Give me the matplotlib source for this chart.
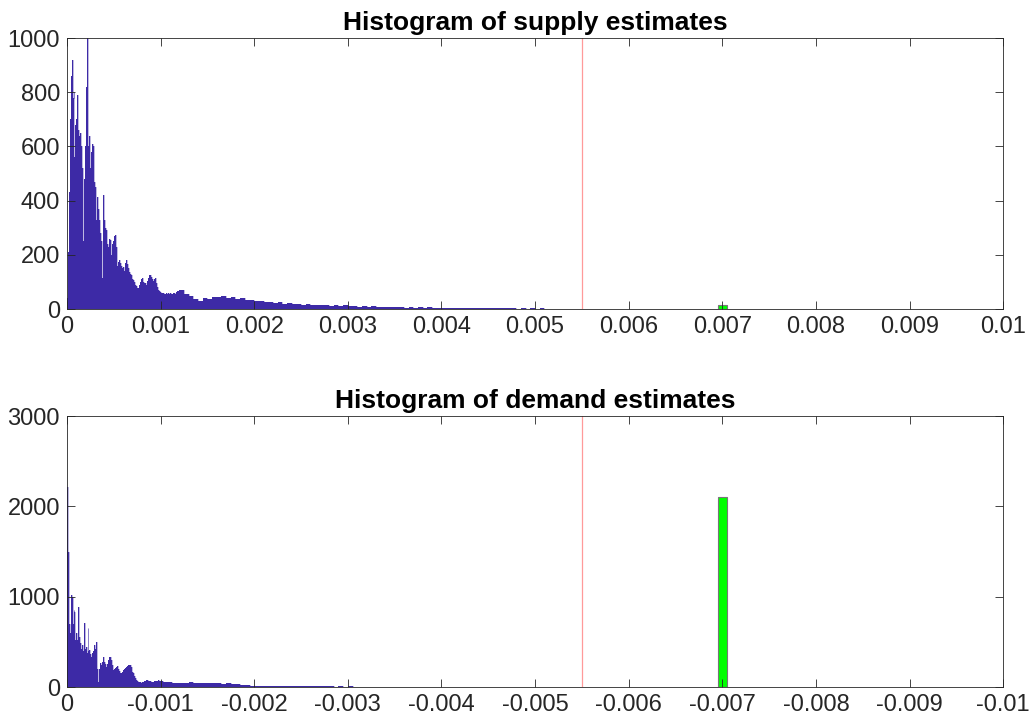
import numpy as np
import matplotlib
matplotlib.use('Agg')
import matplotlib.pyplot as plt

plt.rcParams['font.family'] = ['Liberation Sans', 'DejaVu Sans']

# bin widths used for the two parts of each histogram
fine_w = 0.00001     # 0 .. 0.0012
tail_w = 0.00005     # 0.0012 .. 0.006

supply_fine = [40, 210, 430, 700, 860, 920, 780, 800, 560, 680,
               700, 790, 660, 640, 650, 600, 520, 250, 480, 600,
               820, 1000, 860, 600, 640, 520, 580, 610, 600, 470,
               450, 330, 415, 370, 330, 280, 250, 113, 300, 420,
               330, 300, 290, 240, 230, 260, 255, 200, 240, 250,
               270, 273, 230, 160, 150, 175, 181, 170, 160, 150,
               156, 140, 170, 181, 165, 150, 135, 131, 125, 115,
               110, 107, 100, 90, 85, 78, 76, 90, 100, 110,
               113, 100, 95, 95, 90, 95, 105, 115, 125, 125,
               118, 110, 105, 112, 113, 95, 80, 70, 65, 62,
               60, 58, 60, 58, 55, 57, 60, 55, 58, 56,
               60, 57, 55, 58, 60, 56, 58, 62, 65, 68]
supply_tail = [70, 55, 48, 36, 30, 40, 38, 46, 44, 49,
               42, 45, 38, 41, 33, 35, 28, 31, 25, 27,
               22, 24, 19, 21, 18, 20, 15, 17, 14, 16,
               13, 15, 12, 14, 11, 13, 10, 12, 9, 11,
               8, 10, 7, 9, 7, 8, 6, 7, 5, 7,
               5, 6, 4, 6, 4, 5, 4, 5, 3, 5,
               3, 4, 3, 4, 2, 3, 2, 3, 2, 3,
               2, 2, 1, 2, 1, 2, 1, 2, 1, 1,
               1, 1, 0, 1, 1, 0, 1, 0, 1, 0,
               0, 0, 0, 0, 0, 0]

demand_fine = [2218, 1500, 700, 600, 1018, 1000, 700, 852, 834, 520,
               600, 520, 889, 550, 483, 420, 465, 400, 705, 420,
               446, 380, 650, 400, 410, 360, 330, 373, 400, 465,
               420, 502, 200, 59, 200, 262, 240, 280, 320, 336,
               280, 250, 225, 260, 300, 330, 336, 300, 240, 188,
               200, 210, 225, 232, 220, 200, 180, 160, 151, 170,
               185, 200, 210, 225, 235, 240, 244, 244, 220, 190,
               165, 151, 120, 95, 75, 62, 59, 55, 50, 48,
               55, 59, 65, 70, 75, 77, 72, 68, 65, 62,
               60, 58, 59, 62, 65, 68, 70, 72, 70, 70,
               68, 65, 62, 60, 58, 57, 55, 54, 53, 52,
               52, 50, 48, 47, 46, 45, 44, 43, 42, 41]
demand_tail = [48, 44, 50, 43, 47, 41, 46, 39, 43, 37,
               40, 33, 28, 22, 18, 15, 14, 12, 13, 11,
               12, 10, 11, 9, 10, 8, 9, 7, 8, 6,
               7, 6, 7, 5, 6, 5, 6, 4, 5, 4,
               5, 3, 4, 3, 4, 3, 4, 2, 3, 2,
               3, 2, 3, 2, 2, 1, 2, 1, 2, 1,
               2, 1, 1, 1, 2, 1, 1, 0, 1, 1,
               1, 0, 1, 0, 1, 1, 0, 1, 0, 1,
               0, 1, 0, 0, 1, 0, 0, 0, 0, 0,
               0, 0, 0, 0, 0, 0]

true_value = 0.0055
green_pos = 0.007
green_w = 0.0001
supply_green = 15
demand_green = 2100

ticks = [0, 0.001, 0.002, 0.003, 0.004, 0.005, 0.006, 0.007, 0.008, 0.009, 0.01]
top_labels = ['0', '0.001', '0.002', '0.003', '0.004', '0.005', '0.006', '0.007', '0.008', '0.009', '0.01']
bot_labels = ['0', '-0.001', '-0.002', '-0.003', '-0.004', '-0.005', '-0.006', '-0.007', '-0.008', '-0.009', '-0.01']

blue = '#3d2aa6'
axc = '#262626'


def edges_for(fine, tail):
    e1 = np.arange(len(fine) + 1) * fine_w
    e2 = e1[-1] + np.arange(1, len(tail) + 1) * tail_w
    return np.concatenate([e1, e2])


def draw(ax, fine, tail, green_h, ymax, yticks, labels, title):
    vals = np.array(fine + tail, dtype=float)
    ax.stairs(vals, edges_for(fine, tail), fill=True, color=blue, linewidth=0)
    ax.stairs(vals, edges_for(fine, tail), color=blue, linewidth=0.4, alpha=0.6)
    ax.bar(green_pos, green_h, width=green_w, color='#00ff00', edgecolor='#777777', linewidth=0.8)
    ax.axvline(true_value, color='#ff9a9a', linewidth=0.9)
    ax.set_xlim(0, 0.01)
    ax.set_ylim(0, ymax)
    ax.set_xticks(ticks)
    ax.set_xticklabels(labels)
    ax.set_yticks(yticks)
    ax.tick_params(direction='in', length=6, width=0.6, colors=axc, labelsize=17,
                   top=True, right=True, pad=5)
    for s in ax.spines.values():
        s.set_color(axc)
        s.set_linewidth(0.6)
    ax.set_title(title, fontsize=19, fontweight='bold', pad=6)


fig = plt.figure(figsize=(10.3, 7.24), dpi=100)
ax1 = fig.add_axes([0.065, 0.5732, 0.909, 0.3743])
ax2 = fig.add_axes([0.065, 0.0511, 0.909, 0.3743])

draw(ax1, supply_fine, supply_tail, supply_green, 1000, [0, 200, 400, 600, 800, 1000],
     top_labels, 'Histogram of supply estimates')
draw(ax2, demand_fine, demand_tail, demand_green, 3000, [0, 1000, 2000, 3000],
     bot_labels, 'Histogram of demand estimates')

fig.savefig('out.png', dpi=100)
